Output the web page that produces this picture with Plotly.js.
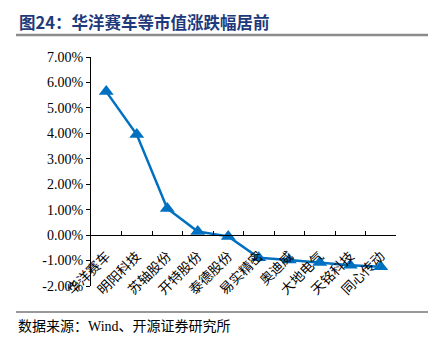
<!DOCTYPE html>
<html>
<head>
<meta charset="utf-8">
<script src="https://cdn.plot.ly/plotly-3.0.1.min.js"></script>
<style>html,body{margin:0;padding:0;background:#fff;}#chart{width:435px;height:352px;}</style>
</head>
<body>
<div id="chart"></div>
<script>
const categories = ["华洋赛车","明阳科技","苏轴股份","开特股份","泰德股份","易实精密","奥迪威","大地电气","天铭科技","同心传动"];
const changePct = [5.64, 3.95, 1.05, 0.14, -0.05, -0.89, -0.98, -1.08, -1.18, -1.24];
const yTickVals = [-2, -1, 0, 1, 2, 3, 4, 5, 6, 7];
const yTickText = ["-2.00%","-1.00%","0.00%","1.00%","2.00%","3.00%","4.00%","5.00%","6.00%","7.00%"];
const titleText = "图24：华洋赛车等市值涨跌幅居前";
const sourceText = "数据来源：Wind、开源证券研究所";

const serif = '"Liberation Serif", "Noto Sans CJK SC", serif';
const yMin = -2, yMax = 7;

const trace = {
  type: 'scatter',
  mode: 'lines+markers',
  x: categories,
  y: changePct,
  line: {color: '#0070C0', width: 2.5},
  marker: {symbol: 'triangle-up', size: 13, color: '#0070C0'},
  cliponaxis: false,
  hoverinfo: 'skip'
};

const layout = {
  width: 435, height: 352,
  margin: {l: 91, r: 39, t: 57, b: 66},
  paper_bgcolor: '#fff', plot_bgcolor: 'rgba(0,0,0,0)',
  showlegend: false,
  font: {family: serif, color: '#000', size: 13},
  xaxis: {
    type: 'category',
    anchor: 'free',
    position: (0 - yMin) / (yMax - yMin),
    showline: true, linecolor: '#000', linewidth: 1,
    ticks: 'inside', ticklen: 4, tickcolor: '#000', tickson: 'boundaries',
    tickangle: -45,
    ticklabelstandoff: 7,
    tickfont: {family: '"Noto Sans CJK SC", serif', size: 13.5, color: '#000'},
    showgrid: false, zeroline: false,
    range: [-0.5, categories.length - 0.5]
  },
  yaxis: {
    range: [yMin, yMax],
    tickvals: yTickVals, ticktext: yTickText,
    showline: true, linecolor: '#000', linewidth: 1,
    ticks: 'outside', ticklen: 4, tickcolor: '#000',
    tickfont: {family: serif, size: 14, color: '#000'},
    showgrid: false, zeroline: false
  },
  shapes: [
    {type: 'line', xref: 'paper', yref: 'paper',
     x0: (16 - 91) / 305, x1: (428 - 91) / 305,
     y0: (352 - 66 - 35) / 229, y1: (352 - 66 - 35) / 229,
     line: {color: '#8c8c8c', width: 2.5}},
    {type: 'line', xref: 'paper', yref: 'paper',
     x0: (16 - 91) / 305, x1: (428 - 91) / 305,
     y0: (286 - 312) / 229, y1: (286 - 312) / 229,
     line: {color: '#333', width: 1}}
  ],
  annotations: [
    {text: titleText, xref: 'paper', yref: 'paper', x: (17 - 91) / 305, y: (286 - 22) / 229,
     xanchor: 'left', yanchor: 'middle', showarrow: false,
     font: {family: '"Noto Sans CJK SC", sans-serif', size: 16.5, color: '#1F3A7A', weight: 'bold'}},
    {text: sourceText, xref: 'paper', yref: 'paper', x: (16 - 91) / 305, y: (286 - 326) / 229,
     xanchor: 'left', yanchor: 'middle', showarrow: false,
     font: {family: '"Liberation Serif", "Noto Sans CJK SC", serif', size: 14, color: '#000'}}
  ]
};

Plotly.newPlot('chart', [trace], layout, {staticPlot: true, displayModeBar: false});
</script>
</body>
</html>
